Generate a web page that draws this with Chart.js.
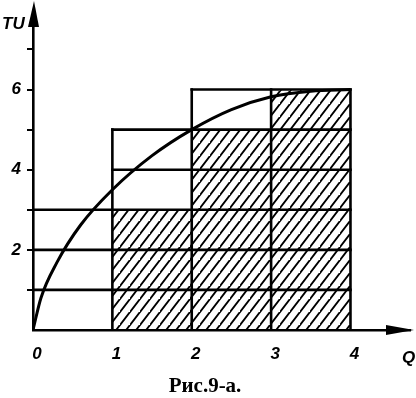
<!DOCTYPE html>
<html>
<head>
<meta charset="utf-8">
<script src="https://cdn.jsdelivr.net/npm/chart.js@4"></script>
<style>
html,body{margin:0;padding:0;background:#fff;}
canvas{display:block;}
</style>
</head>
<body>
<canvas id="c" width="416" height="398"></canvas>
<script>
// ---- data ----
const X_TICKS = [0, 1, 2, 3, 4];
const Y_TICK_LABELS = [2, 4, 6];
const COLUMN_LEFT = [0, 1, 2, 3];          // column left edges (Q)
const COLUMN_HEIGHT = [3, 5, 6, 6];        // outlined column heights (TU units)
const HATCH_TOP = [0, 3, 5, 6];            // hatched part of each column
const Q_CURVE = [0, 0.1, 0.3, 0.6, 1, 1.5, 2, 2.5, 3, 3.5, 4];
const TU_CURVE = [0, 0.8, 1.68, 2.62, 3.5, 4.35, 5.0, 5.5, 5.82, 5.96, 6.0];
const CAPTION = 'Рис.9-а.';

// ---- hatch pattern ----
function makeHatch() {
  const w = 10, h = 13;
  const pc = document.createElement('canvas');
  pc.width = w; pc.height = h;
  const g = pc.getContext('2d');
  g.strokeStyle = '#000';
  g.lineWidth = 1.9;
  g.beginPath();
  g.moveTo(-w, 2 * h); g.lineTo(2 * w, -h);
  g.moveTo(-2 * w, 2 * h); g.lineTo(w, -h);
  g.moveTo(0, 3 * h); g.lineTo(3 * w, -2 * h);
  g.stroke();
  return document.getElementById('c').getContext('2d').createPattern(pc, 'repeat');
}

// ---- outline segments built from the column arrays ----
const segments = [];
const maxH = Math.max(...COLUMN_HEIGHT);
for (let k = 1; k <= maxH; k++) {
  let start = null;
  for (let i = 0; i <= COLUMN_HEIGHT.length; i++) {
    const on = i < COLUMN_HEIGHT.length && COLUMN_HEIGHT[i] >= k;
    if (on && start === null) start = COLUMN_LEFT[i];
    if (!on && start !== null) {
      segments.push([{x: start, y: k}, {x: COLUMN_LEFT[i - 1] + 1, y: k}]);
      start = null;
    }
  }
}
for (let i = 0; i < COLUMN_HEIGHT.length; i++) {
  const xr = COLUMN_LEFT[i] + 1;
  const hr = Math.max(COLUMN_HEIGHT[i], i + 1 < COLUMN_HEIGHT.length ? COLUMN_HEIGHT[i + 1] : 0);
  segments.push([{x: xr, y: 0}, {x: xr, y: hr}]);
}

const datasets = [];
segments.forEach(s => datasets.push({
  type: 'line', data: s, borderColor: '#000', borderWidth: 2.6,
  pointRadius: 0, fill: false, order: 1, borderCapStyle: 'square'
}));
datasets.push({
  type: 'line',
  data: Q_CURVE.map((q, i) => ({x: q, y: TU_CURVE[i]})),
  borderColor: '#000', borderWidth: 3, pointRadius: 0, fill: false,
  cubicInterpolationMode: 'monotone', order: 0
});
datasets.push({
  type: 'bar',
  data: COLUMN_LEFT.map((l, i) => ({x: l + 0.5, y: [0, HATCH_TOP[i]]})),
  backgroundColor: makeHatch(), borderWidth: 0,
  barPercentage: 1, categoryPercentage: 1, grouped: false, order: 5
});

const decor = {
  id: 'decor',
  afterDraw(chart) {
    const ctx = chart.ctx, a = chart.chartArea;
    ctx.save();
    ctx.fillStyle = '#000';
    // y arrow
    ctx.beginPath();
    ctx.moveTo(a.left + 1, 1);
    ctx.lineTo(a.left - 5, 27);
    ctx.lineTo(a.left + 6, 27);
    ctx.closePath(); ctx.fill();
    // x arrow
    ctx.beginPath();
    ctx.moveTo(a.right + 4, a.bottom);
    ctx.lineTo(a.right - 24, a.bottom - 5);
    ctx.lineTo(a.right - 24, a.bottom + 5);
    ctx.closePath(); ctx.fill();
    // axis names
    ctx.font = 'italic bold 17px "Liberation Sans"';
    ctx.textAlign = 'left'; ctx.textBaseline = 'alphabetic';
    ctx.fillText('TU', 2, 29);
    ctx.fillText('Q', 402, 363);
    // caption
    ctx.font = 'bold 21px "Liberation Serif"';
    ctx.textAlign = 'center';
    ctx.fillText(CAPTION, 205, 392);
    ctx.restore();
  }
};

new Chart(document.getElementById('c'), {
  type: 'bar',
  data: {datasets},
  options: {
    responsive: false,
    animation: false,
    layout: {padding: {top: 5, right: 6, left: 0, bottom: 0}},
    plugins: {legend: {display: false}, tooltip: {enabled: false}, title: {display: false}},
    scales: {
      x: {
        type: 'linear', min: 0, max: 4.75, offset: false,
        grid: {display: false},
        border: {display: true, color: '#000', width: 2.6},
        afterBuildTicks: s => { s.ticks = X_TICKS.map(v => ({value: v})); },
        afterFit: s => { s.height = 68; },
        ticks: {
          color: '#000', padding: 6, labelOffset: 4, maxRotation: 0, autoSkip: false,
          font: {family: 'Liberation Sans', size: 17, weight: 'bold', style: 'italic'}
        }
      },
      y: {
        type: 'linear', min: 0, max: 7.83,
        grid: {display: true, drawOnChartArea: false, drawTicks: true, tickLength: 6, color: '#000', lineWidth: 2},
        border: {display: true, color: '#000', width: 2.6},
        afterBuildTicks: s => { s.ticks = [1, 2, 3, 4, 5, 6, 7].map(v => ({value: v})); },
        afterFit: s => { s.width = 33; },
        ticks: {
          color: '#000', padding: 6, autoSkip: false,
          callback: v => Y_TICK_LABELS.includes(v) ? String(v) : '',
          font: {family: 'Liberation Sans', size: 17, weight: 'bold', style: 'italic'}
        }
      }
    }
  },
  plugins: [decor]
});
</script>
</body>
</html>
